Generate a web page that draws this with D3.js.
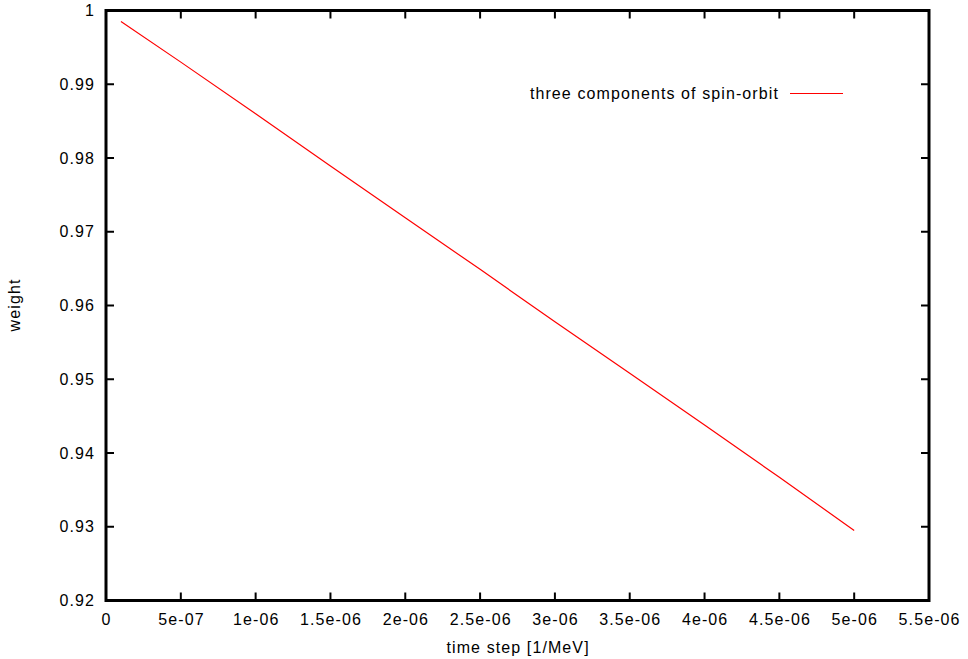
<!DOCTYPE html>
<html><head><meta charset="utf-8">
<script src="https://cdn.jsdelivr.net/npm/d3@7"></script>
<style>body{margin:0;background:#fff;} text{font-family:"Liberation Sans",Arial,sans-serif;font-size:16px;fill:#000;letter-spacing:1.1px;}</style>
</head><body>
<svg id="c" width="968" height="659"></svg>
<script>
const timeStep = [1e-7, 5e-7, 1e-6, 1.5e-6, 2e-6, 2.5e-6, 3e-6, 3.5e-6, 4e-6, 4.5e-6, 5e-6];
const weight = [0.9985, 0.9930, 0.9860, 0.9789, 0.9719, 0.9649, 0.9578, 0.9508, 0.9438, 0.9367, 0.9295];
const xTicks = [0, 5e-7, 1e-6, 1.5e-6, 2e-6, 2.5e-6, 3e-6, 3.5e-6, 4e-6, 4.5e-6, 5e-6, 5.5e-6];
const xTickLabels = ["0","5e-07","1e-06","1.5e-06","2e-06","2.5e-06","3e-06","3.5e-06","4e-06","4.5e-06","5e-06","5.5e-06"];
const yTicks = [0.92, 0.93, 0.94, 0.95, 0.96, 0.97, 0.98, 0.99, 1];
const yTickLabels = ["0.92","0.93","0.94","0.95","0.96","0.97","0.98","0.99","1"];
const seriesName = "three components of spin-orbit";

const L = 106, R = 929, T = 10.5, B = 600.5;
const svg = d3.select("#c");
const x = d3.scaleLinear().domain([0, 5.5e-6]).range([L, R]);
const y = d3.scaleLinear().domain([0.92, 1]).range([B, T]);

const tl = 8;
const g = svg.append("g");
xTicks.forEach((v,i) => {
  g.append("line").attr("x1", x(v)).attr("x2", x(v)).attr("y1", B).attr("y2", B - tl).attr("stroke","#000").attr("stroke-width",2);
  g.append("line").attr("x1", x(v)).attr("x2", x(v)).attr("y1", T).attr("y2", T + tl).attr("stroke","#000").attr("stroke-width",2);
  g.append("text").attr("x", x(v) + 0.6).attr("y", 625).attr("text-anchor","middle").text(xTickLabels[i]);
});
yTicks.forEach((v,i) => {
  g.append("line").attr("x1", L).attr("x2", L + tl).attr("y1", y(v)).attr("y2", y(v)).attr("stroke","#000").attr("stroke-width",2);
  g.append("line").attr("x1", R).attr("x2", R - tl).attr("y1", y(v)).attr("y2", y(v)).attr("stroke","#000").attr("stroke-width",2);
  g.append("text").attr("x", 95).attr("y", y(v)).attr("dy","0.35em").attr("text-anchor","end").text(yTickLabels[i]);
});

const pts = timeStep.map((t,i) => [t, weight[i]]);
svg.append("path").datum(pts)
  .attr("d", d3.line().x(d => x(d[0])).y(d => y(d[1])))
  .attr("fill","none").attr("stroke","#ff0000").attr("stroke-width",1.2);

svg.append("rect").attr("x", L).attr("y", T).attr("width", R - L).attr("height", B - T)
  .attr("fill","none").attr("stroke","#000").attr("stroke-width",3);

svg.append("text").attr("x", 779).attr("y", 93).attr("dy","0.35em").attr("text-anchor","end").text(seriesName);
svg.append("line").attr("x1", 790).attr("x2", 843).attr("y1", 93.5).attr("y2", 93.5).attr("stroke","#ff0000").attr("stroke-width",1.2);

svg.append("text").attr("x", (L+R)/2 + 0.6).attr("y", 653).attr("text-anchor","middle").text("time step [1/MeV]");
svg.append("text").attr("transform","translate(20,305) rotate(-90)").attr("text-anchor","middle").text("weight");
</script>
</body></html>
